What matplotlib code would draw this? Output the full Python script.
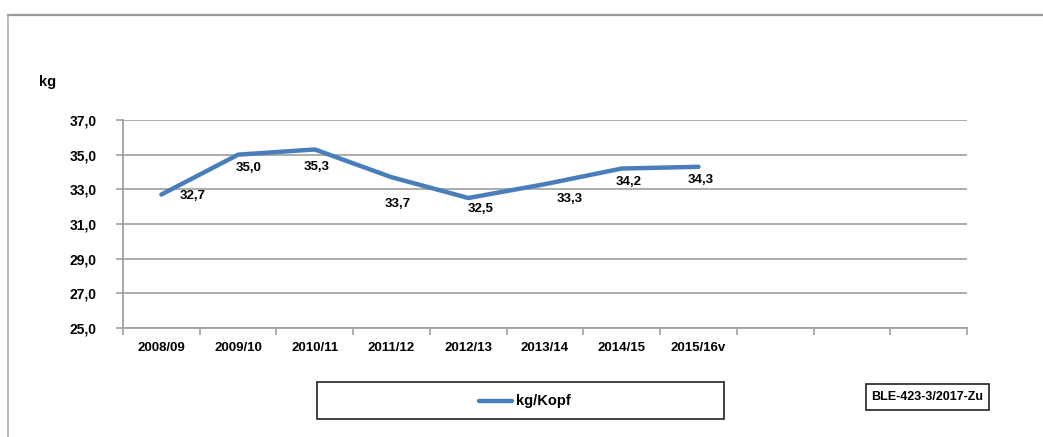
import numpy as np
import matplotlib
matplotlib.use("Agg")
import matplotlib.pyplot as plt
from matplotlib.patches import Rectangle
from matplotlib.lines import Line2D

plt.rcParams['font.family'] = ['Liberation Sans', 'DejaVu Sans']

# Daten
jahre = ["2008/09", "2009/10", "2010/11", "2011/12", "2012/13",
         "2013/14", "2014/15", "2015/16v", "", "", ""]
werte = [32.7, 35.0, 35.3, 33.7, 32.5, 33.3, 34.2, 34.3]
y_ticks = [25, 27, 29, 31, 33, 35, 37]
# Beschriftungs-Versatz in Pixel (wie im Original verschoben)
label_dx = [31, 11, 2, 6, 12, 25, 7, 2]
label_dy = [-1, -13, -18, -27, -11, -15, -13, -13]

W, H = 1043, 437
fig = plt.figure(figsize=(W / 100, H / 100), dpi=100)

def fx(px):
    return px / W

def fy(py):
    return 1 - py / H

ax = fig.add_axes([fx(123), fy(328), fx(967 - 123), (328 - 120) / H])

x = np.arange(len(werte))
farbe = "#4a7ebb"
ax.plot(x, werte, color=farbe, lw=3.2, solid_capstyle="round", zorder=3)

for i, v in enumerate(werte):
    ax.annotate(f"{v:.1f}".replace(".", ","), (x[i], v),
                xytext=(label_dx[i], label_dy[i]), textcoords="offset pixels",
                ha="center", va="center", fontsize=9.5, fontweight="bold")

ax.set_xlim(-0.5, len(jahre) - 0.5)
ax.set_ylim(25, 37)
ax.set_yticks(y_ticks)
ax.set_yticklabels([f"{t:.1f}".replace(".", ",") for t in y_ticks],
                   fontsize=10, fontweight="bold")
ax.set_xticks(np.arange(len(jahre)))
ax.set_xticklabels(jahre, fontsize=9.5, fontweight="bold")
ax.set_xticks(np.arange(len(jahre) + 1) - 0.5, minor=True)
ax.tick_params(axis="x", which="major", length=0, pad=10)
ax.tick_params(axis="x", which="minor", length=5, width=1.2, color="#a0a0a0")
ax.tick_params(axis="y", length=5, width=1.2, color="#a0a0a0", pad=14)

ax.grid(axis="y", color="#a6a6a6", lw=1.3)
ax.set_axisbelow(True)
for s in ["top", "right"]:
    ax.spines[s].set_visible(False)
for s in ["left", "bottom"]:
    ax.spines[s].set_color("#a0a0a0")
    ax.spines[s].set_linewidth(1.3)

fig.text(fx(48), fy(82), "kg", fontsize=10.5, fontweight="bold",
         ha="center", va="center")

# Rahmen aussen
fig.add_artist(Line2D([fx(8), 1], [fy(14.5), fy(14.5)], color="#9a9a9a", lw=1.6))
fig.add_artist(Line2D([fx(8), fx(8)], [fy(14.5), 0], color="#b0b0b0", lw=1.2))

# Legende
fig.add_artist(Rectangle((fx(317), fy(419)), fx(724 - 317), (419 - 382) / H,
                         fill=False, edgecolor="#222222", lw=1.2))
fig.add_artist(Line2D([fx(479), fx(512)], [fy(401), fy(401)], color=farbe,
                      lw=3.2, solid_capstyle="round"))
fig.text(fx(516), fy(401), "kg/Kopf", fontsize=10.5, fontweight="bold",
         ha="left", va="center")

# Quelle
fig.add_artist(Rectangle((fx(866), fy(410)), fx(989 - 866), (410 - 384) / H,
                         fill=False, edgecolor="#222222", lw=1.2))
fig.text(fx(927.5), fy(397), "BLE-423-3/2017-Zu", fontsize=9,
         fontweight="bold", ha="center", va="center")

fig.savefig("out.png", dpi=100)
